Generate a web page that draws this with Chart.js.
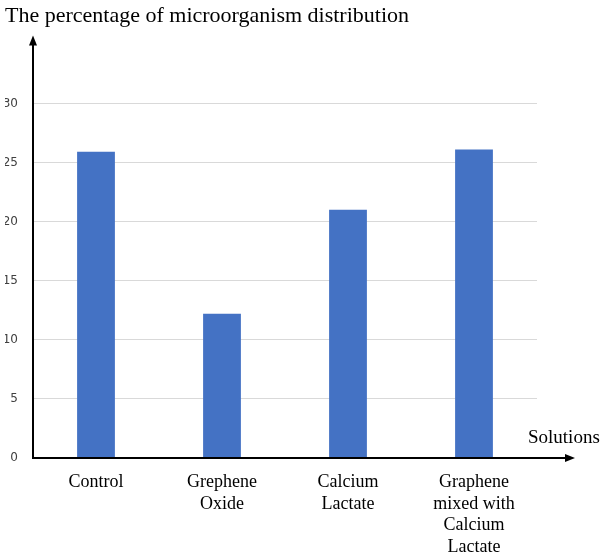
<!DOCTYPE html>
<html>
<head>
<meta charset="utf-8">
<script src="https://cdn.jsdelivr.net/npm/chart.js@4"></script>
<style>
  body { margin: 0; background: #fff; }
  #wrap { width: 613px; height: 560px; }
</style>
</head>
<body>
<div id="wrap"><canvas id="chart" width="613" height="560"></canvas></div>
<script>
const categories = [
    ['Control'],
    ['Grephene', 'Oxide'],
    ['Calcium', 'Lactate'],
    ['Graphene', 'mixed with', 'Calcium', 'Lactate']
];
const percentages = [25.9, 12.2, 21.0, 26.1];
const yTicks = [0, 5, 10, 15, 20, 25, 30];
const xAxisTitle = 'Solutions';
const chartTitle = 'The percentage of microorganism distribution';

// draws the black axes with arrow heads and the "Solutions" label
const arrowAxes = {
    id: 'arrowAxes',
    afterDatasetsDraw(chart) {
        const ctx = chart.ctx;
        const area = chart.chartArea;
        const x0 = area.left;
        const y0 = chart.scales.y.getPixelForValue(0);
        const yTop = area.top - 68;
        const xEnd = area.right + 38;

        ctx.save();
        ctx.strokeStyle = '#000';
        ctx.fillStyle = '#000';
        ctx.lineWidth = 2;

        ctx.beginPath();
        ctx.moveTo(x0, y0 + 1);
        ctx.lineTo(x0, yTop + 6);
        ctx.moveTo(x0 - 1, y0);
        ctx.lineTo(xEnd - 6, y0);
        ctx.stroke();

        ctx.beginPath();
        ctx.moveTo(x0, yTop);
        ctx.lineTo(x0 - 4, yTop + 10);
        ctx.lineTo(x0 + 4, yTop + 10);
        ctx.closePath();
        ctx.fill();

        ctx.beginPath();
        ctx.moveTo(xEnd, y0);
        ctx.lineTo(xEnd - 10, y0 - 4);
        ctx.lineTo(xEnd - 10, y0 + 4);
        ctx.closePath();
        ctx.fill();

        ctx.font = '19px "Liberation Serif"';
        ctx.textAlign = 'left';
        ctx.textBaseline = 'middle';
        ctx.fillText(xAxisTitle, area.right - 9, y0 - 20);
        ctx.restore();
    }
};

new Chart(document.getElementById('chart'), {
    type: 'bar',
    data: {
        labels: categories,
        datasets: [{
            data: percentages,
            backgroundColor: '#4472C4',
            borderWidth: 0,
            barPercentage: 0.3,
            categoryPercentage: 1.0
        }]
    },
    options: {
        responsive: false,
        animation: false,
        layout: {
            padding: { left: 5, right: 76, top: 0, bottom: 0 }
        },
        plugins: {
            legend: { display: false },
            tooltip: { enabled: false },
            title: {
                display: true,
                text: chartTitle,
                align: 'start',
                color: '#000',
                font: { family: 'Liberation Serif', size: 22, weight: 'normal' },
                padding: { top: 3, bottom: 74 }
            }
        },
        scales: {
            x: {
                grid: { display: false, drawTicks: false },
                border: { display: false },
                ticks: {
                    color: '#000',
                    font: { family: 'Liberation Serif', size: 18, lineHeight: 1.19 },
                    padding: 14,
                    maxRotation: 0,
                    autoSkip: false
                },
                afterFit(scale) { scale.height = 102; }
            },
            y: {
                min: 0,
                max: 30,
                afterBuildTicks(scale) {
                    scale.ticks = yTicks.map(v => ({ value: v }));
                },
                grid: { color: '#d9d9d9', lineWidth: 1, drawTicks: false },
                border: { display: false },
                ticks: {
                    color: '#404040',
                    font: { family: 'DejaVu Sans', size: 12 },
                    padding: 15
                },
                afterFit(scale) { scale.width = 28; }
            }
        }
    },
    plugins: [arrowAxes]
});
</script>
</body>
</html>
